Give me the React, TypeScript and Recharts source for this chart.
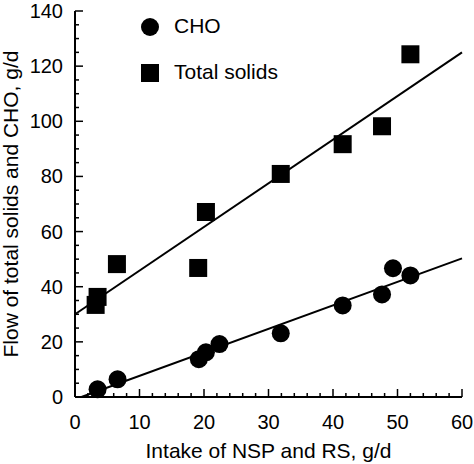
import React from 'react';
import { ScatterChart, Scatter, XAxis, YAxis, ReferenceLine, Customized } from 'recharts';

const choX = [3.5, 6.6, 19.2, 20.3, 22.4, 31.9, 41.5, 47.6, 49.3, 52.0];
const choY = [2.8, 6.4, 13.7, 16.2, 19.2, 23.1, 33.2, 37.2, 46.7, 44.1];
const solidsX = [3.2, 3.5, 6.5, 19.1, 20.3, 31.9, 41.5, 47.6, 52.0];
const solidsY = [33.4, 36.3, 48.2, 46.8, 67.1, 80.9, 91.7, 98.2, 124.3];

// regression lines (end points)
const solidsFitX = [0, 60];
const solidsFitY = [30.0, 125.0];
const choFitX = [1.0, 60];
const choFitY = [0, 50.3];

const xTicks = [0, 2, 4, 6, 8, 10, 12, 14, 16, 18, 20, 22, 24, 26, 28, 30, 32, 34, 36, 38, 40, 42, 44, 46, 48, 50, 52, 54, 56, 58, 60];
const xLabels = [0, 10, 20, 30, 40, 50, 60];
const yTicks = [0, 5, 10, 15, 20, 25, 30, 35, 40, 45, 50, 55, 60, 65, 70, 75, 80, 85, 90, 95, 100, 105, 110, 115, 120, 125, 130, 135, 140];
const yLabels = [0, 20, 40, 60, 80, 100, 120, 140];

const legendNames = ['CHO', 'Total solids'];

const FONT = '"Liberation Sans", Arial, sans-serif';

const choData = choX.map((x, i) => ({ x, y: choY[i] }));
const solidsData = solidsX.map((x, i) => ({ x, y: solidsY[i] }));
const toSegment = (xs: number[], ys: number[]) => xs.map((x, i) => ({ x, y: ys[i] }));

const Dot = (props: any) => <circle cx={props.cx} cy={props.cy} r={9} fill="#000" />;
const Box = (props: any) => <rect x={props.cx - 9} y={props.cy - 9} width={18} height={18} fill="#000" />;

const XTick = (props: any) => {
  const { x, y, payload } = props;
  const major = xLabels.includes(payload.value);
  return (
    <g>
      <line x1={x} y1={y} x2={x} y2={y - (major ? 8 : 4)} stroke="#000" strokeWidth={1.5} />
      {major && (
        <text x={x} y={y + 25} dy="0.35em" textAnchor="middle" fontSize={20} fontFamily={FONT} fill="#000">
          {payload.value}
        </text>
      )}
    </g>
  );
};

const YTick = (props: any) => {
  const { x, y, payload } = props;
  const major = yLabels.includes(payload.value);
  return (
    <g>
      <line x1={x} y1={y} x2={x + (major ? 8 : 4)} y2={y} stroke="#000" strokeWidth={1.5} />
      {major && (
        <text x={x - 12} y={y} dy="0.35em" textAnchor="end" fontSize={20} fontFamily={FONT} fill="#000">
          {payload.value}
        </text>
      )}
    </g>
  );
};

const LegendBox = () => (
  <g fontFamily={FONT} fontSize={21} fill="#000">
    {legendNames.map((name, i) => {
      const cy = 26 + i * 46;
      return (
        <g key={name}>
          {i === 0 ? (
            <circle cx={150} cy={cy + 1} r={9} fill="#000" />
          ) : (
            <rect x={141} y={cy - 8} width={18} height={18} fill="#000" />
          )}
          <text x={174} y={cy} dy="0.35em">{name}</text>
        </g>
      );
    })}
  </g>
);

export default function App() {
  return (
    <div style={{ position: 'absolute', left: 0, top: 0, fontFamily: FONT }}>
      <ScatterChart width={474} height={464} margin={{ top: 11, right: 12, left: 0, bottom: 0 }}>
        <XAxis
          type="number"
          dataKey="x"
          domain={[0, 60]}
          ticks={xTicks}
          interval={0}
          height={67}
          tickSize={0}
          tickMargin={0}
          tickLine={false}
          tick={<XTick />}
          axisLine={{ stroke: '#000', strokeWidth: 2 }}
          label={{ value: 'Intake of NSP and RS, g/d', position: 'insideBottom', offset: 6, fontSize: 21, fill: '#000', fontFamily: FONT }}
        />
        <YAxis
          type="number"
          dataKey="y"
          domain={[0, 140]}
          ticks={yTicks}
          interval={0}
          width={75}
          tickSize={0}
          tickMargin={0}
          tickLine={false}
          tick={<YTick />}
          axisLine={{ stroke: '#000', strokeWidth: 2 }}
          label={{ value: 'Flow of total solids and CHO, g/d', angle: -90, position: 'insideLeft', offset: 11, fontSize: 21, fill: '#000', fontFamily: FONT, style: { textAnchor: 'middle' } }}
        />
        <ReferenceLine segment={toSegment(solidsFitX, solidsFitY)} stroke="#000" strokeWidth={2} />
        <ReferenceLine segment={toSegment(choFitX, choFitY)} stroke="#000" strokeWidth={2} />
        <Scatter name="CHO" data={choData} shape={<Dot />} isAnimationActive={false} />
        <Scatter name="Total solids" data={solidsData} shape={<Box />} isAnimationActive={false} />
        <Customized component={<LegendBox />} />
      </ScatterChart>
    </div>
  );
}
